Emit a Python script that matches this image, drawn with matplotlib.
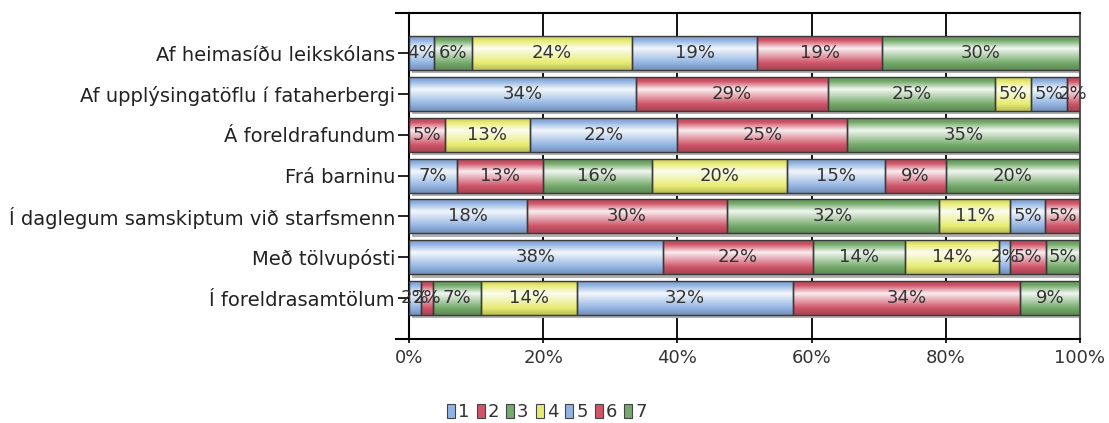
import numpy as np
import matplotlib
matplotlib.use("Agg")
import matplotlib.pyplot as plt
import matplotlib.colors as mcolors
from matplotlib.patches import Patch

# categories from top to bottom
categories = [
    "Af heimasíðu leikskólans",
    "Af upplýsingatöflu í fataherbergi",
    "Á foreldrafundum",
    "Frá barninu",
    "Í daglegum samskiptum við starfsmenn",
    "Með tölvupósti",
    "Í foreldrasamtölum",
]
series_names = ["1", "2", "3", "4", "5", "6", "7"]

# percent shares per answer (same order as categories)
s1 = [3.8, 33.8, 0, 7.2, 17.6, 37.9, 1.8]
s2 = [0, 28.6, 5.3, 12.7, 29.8, 22.3, 1.8]
s3 = [5.6, 25.0, 0, 16.3, 31.6, 13.8, 7.2]
s4 = [24.0, 5.3, 12.8, 20.1, 10.6, 14.0, 14.2]
s5 = [18.7, 5.3, 21.9, 14.6, 5.2, 1.6, 32.3]
s6 = [18.7, 2.0, 25.3, 9.1, 5.2, 5.3, 33.7]
s7 = [29.6, 0, 34.7, 20.0, 0, 5.1, 9.0]
series = [s1, s2, s3, s4, s5, s6, s7]

xticks = [0, 20, 40, 60, 80, 100]

blue, red, green, yellow = "#92b4e2", "#cf5468", "#74aa6a", "#e6eb70"
colors = [blue, red, green, yellow, blue, red, green]


def shade(c):
    # vertical "cylinder" gradient: base -> white -> base
    rgb = np.array(mcolors.to_rgb(c))
    t = np.linspace(0, 1, 64)
    prof = np.interp(t, [0, 0.12, 0.36, 0.48, 0.8, 1.0], [-0.15, 0.0, 0.9, 0.65, 0.0, -0.2])
    img = np.empty((64, 1, 3))
    for k, p in enumerate(prof):
        if p >= 0:
            img[k, 0] = rgb + (1 - rgb) * p
        else:
            img[k, 0] = rgb * (1 + p)
    return np.clip(img, 0, 1)


fig = plt.figure(figsize=(11.09, 4.23), dpi=100)
ax = fig.add_axes([0.3688, 0.1986, 0.605, 0.7707])

n = len(categories)
h = 0.83
for i in range(n):
    y = n - 1 - i
    total = sum(s[i] for s in series)
    # drop shadow
    ax.barh(y - 0.08, 100, left=0.5, height=h, color="#b0b0b0", zorder=1.5, linewidth=0)
    left = 0
    for j, s in enumerate(series):
        w = s[i] / total * 100
        if w <= 0:
            continue
        bar = ax.barh(y, w, left=left, height=h, facecolor="none",
                      edgecolor="#3a3a3a", linewidth=1, zorder=3)[0]
        im = ax.imshow(shade(colors[j]), extent=(left, left + w, y - h / 2, y + h / 2),
                       aspect="auto", origin="upper", interpolation="bilinear", zorder=2)
        im.set_clip_path(bar)
        ax.text(left + w / 2, y, f"{round(s[i])}%", ha="center", va="center",
                fontsize=13, color="#333333", zorder=4)
        left += w

ax.set_xlim(0, 100)
ax.set_ylim(-1.0, 6.98)
ax.set_aspect("auto")

# vertical grid lines behind bars
for x in xticks[1:-1]:
    ax.axvline(x, color="black", lw=1.3, zorder=0.5)

ax.set_yticks(range(n))
ax.set_yticklabels(categories[::-1])
ax.set_xticks(xticks)
ax.set_xticklabels([f"{x}%" for x in xticks])
ax.tick_params(axis="y", length=8, width=1.2, labelsize=14, pad=2, labelcolor="#222222")
ax.tick_params(axis="x", length=3, width=1.2, labelsize=13, pad=4, labelcolor="#333333")

for side in ["top", "left", "bottom"]:
    ax.spines[side].set_color("black")
    ax.spines[side].set_linewidth(1.5)
ax.spines["right"].set_color("#555555")
ax.spines["right"].set_linewidth(1.5)

# top and bottom lines run a bit past the left spine
for yy in [0, 1]:
    ax.plot([-0.0194, 0], [yy, yy], transform=ax.transAxes, color="black",
            lw=1.5, clip_on=False)

handles = [Patch(facecolor=colors[j], edgecolor="#444444", linewidth=0.8, label=series_names[j])
           for j in range(len(series))]
fig.legend(handles=handles, loc="center", bbox_to_anchor=(0.4932, 0.026), ncol=7,
           frameon=False, fontsize=13, handlelength=0.45, handleheight=0.8,
           handletextpad=0.15, columnspacing=0.4, labelcolor="#333333")

fig.savefig("out.png", dpi=100)
